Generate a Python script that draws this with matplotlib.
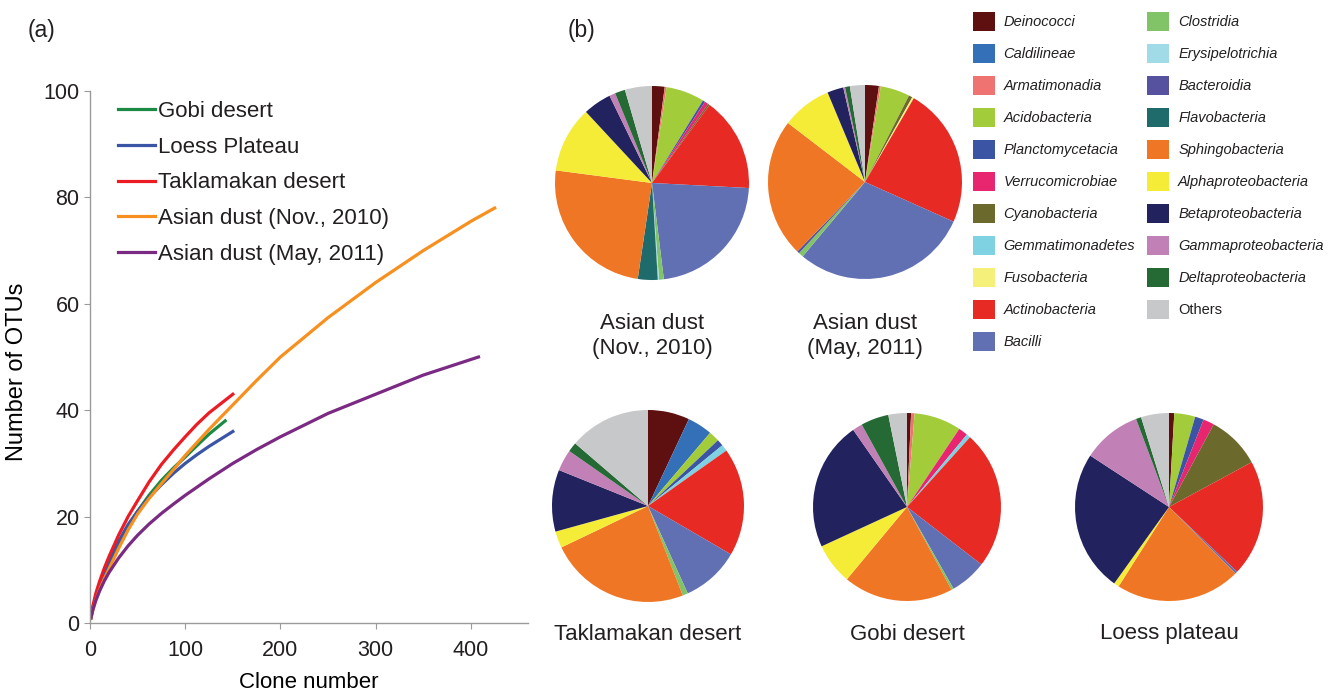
import matplotlib.pyplot as plt
from matplotlib.patches import Patch

plt.rcParams['font.family'] = ['Liberation Sans', 'DejaVu Sans']
plt.rcParams['text.color'] = '#231f20'

# rarefaction curves (clone number, OTUs)
gobi_x = [1, 3, 6, 10, 15, 20, 30, 40, 50, 62, 75, 88, 100, 112, 125, 142]
gobi_y = [1, 2.8, 4.8, 7, 9.3, 11.3, 15, 18.2, 21, 24, 26.8, 29.2, 31.2, 33.3, 35.5, 38]
loess_x = [1, 3, 6, 10, 15, 20, 30, 40, 50, 62, 75, 88, 100, 112, 125, 150]
loess_y = [1, 2.8, 4.8, 7, 9.4, 11.5, 15.3, 18.5, 21, 23.6, 26, 28.2, 30, 31.6, 33.2, 36]
takla_x = [1, 3, 6, 10, 15, 20, 30, 40, 50, 62, 75, 88, 100, 112, 125, 150]
takla_y = [1, 3.2, 5.5, 7.8, 10.3, 12.5, 16.5, 20, 23, 26.5, 29.8, 32.6, 35, 37.3, 39.5, 43]
nov_x = [1, 3, 6, 10, 15, 20, 30, 40, 50, 62, 75, 88, 100, 125, 150,
         175, 200, 250, 300, 350, 400, 425]
nov_y = [1, 2.4, 4.2, 6.2, 8.3, 10.2, 14, 17.5, 20.5, 23.4, 26.2, 28.9, 31.5,
         36.4, 41, 45.6, 50, 57.4, 64, 70, 75.5, 78]
may_x = [1, 3, 6, 10, 15, 20, 30, 40, 50, 62, 75, 88, 100, 125, 150,
         175, 200, 250, 300, 350, 408]
may_y = [1, 2.5, 4.2, 6, 7.9, 9.5, 12.2, 14.5, 16.5, 18.6, 20.6, 22.4, 24,
         27.1, 30, 32.6, 35, 39.4, 43, 46.6, 50]

classes = ['Deinococci', 'Caldilineae', 'Armatimonadia', 'Acidobacteria',
           'Planctomycetacia', 'Verrucomicrobiae', 'Cyanobacteria',
           'Gemmatimonadetes', 'Fusobacteria', 'Actinobacteria', 'Bacilli',
           'Clostridia', 'Erysipelotrichia', 'Bacteroidia', 'Flavobacteria',
           'Sphingobacteria', 'Alphaproteobacteria', 'Betaproteobacteria',
           'Gammaproteobacteria', 'Deltaproteobacteria', 'Others']
class_colors = ['#5e1010', '#3470b8', '#ef7370', '#a3cc3a', '#3b54a4',
                '#e8256f', '#6c692d', '#7fd2e1', '#f5f07a', '#e82a25',
                '#6170b3', '#80c467', '#a0dbe7', '#5652a0', '#1f6b6b',
                '#ef7624', '#f4ec37', '#21225e', '#c181b6', '#256934',
                '#c7c8ca']

# community composition (%), same order as classes
dust_nov = [2.1, 0, 0.3, 6.4, 0.4, 0.6, 0.3, 0, 0, 15.7, 22.2,
            0.8, 0.2, 0, 3.3, 24.7, 11.0, 4.7, 1.0, 1.7, 4.5]
dust_may = [2.3, 0, 0.3, 4.9, 0, 0, 0.6, 0, 0.3, 23.3, 29.4,
            0.8, 0, 0.4, 0, 23.1, 8.3, 2.7, 0.3, 0.8, 2.5]
taklamakan = [7.0, 4.2, 0, 1.8, 1.1, 0, 0, 1.1, 0, 18.2, 9.8,
              0.9, 0, 0, 0, 23.8, 2.8, 10.4, 3.6, 1.6, 13.7]
gobi = [0.7, 0, 0.6, 8.1, 0, 1.6, 0, 0.7, 0, 23.8, 6.3,
        0.4, 0, 0, 0, 18.9, 7.1, 22.2, 1.7, 4.8, 3.2]
loess = [0.9, 0, 0, 3.6, 1.5, 1.9, 9.2, 0, 0, 20.0, 0.4,
         0, 0, 0, 0, 21.5, 0.9, 24.3, 10.1, 0.9, 4.8]

pie_sets = [dust_nov, dust_may, taklamakan, gobi, loess]
pie_titles = ['Asian dust\n(Nov., 2010)', 'Asian dust\n(May, 2011)',
              'Taklamakan desert', 'Gobi desert', 'Loess plateau']
# pie centres / radius in figure pixels (y from top)
pie_centers = [(652, 183), (865, 182), (648, 506), (907, 507), (1169, 507)]
pie_radius = [97, 97, 96, 94, 94]
title_y = [336, 336, 634, 634, 634]

W, H = 1329, 691
fig = plt.figure(figsize=(W / 100, H / 100), dpi=100)

# ---- (a) rarefaction curves
ax = fig.add_axes([90 / W, 1 - 623 / H, 438 / W, 532 / H])
ax.plot(gobi_x, gobi_y, color='#1a8a44', lw=2.3, label='Gobi desert')
ax.plot(loess_x, loess_y, color='#3a55a5', lw=2.3, label='Loess Plateau')
ax.plot(takla_x, takla_y, color='#ec1c24', lw=2.3, label='Taklamakan desert')
ax.plot(nov_x, nov_y, color='#f7901e', lw=2.3, label='Asian dust (Nov., 2010)')
ax.plot(may_x, may_y, color='#7b2a83', lw=2.3, label='Asian dust (May, 2011)')
ax.set_xlim(0, 460)
ax.set_ylim(0, 100)
ax.set_xticks([0, 100, 200, 300, 400])
ax.set_yticks([0, 20, 40, 60, 80, 100])
for s in ['top', 'right']:
    ax.spines[s].set_visible(False)
for s in ['left', 'bottom']:
    ax.spines[s].set_color('#9a9a9a')
    ax.spines[s].set_linewidth(1)
ax.tick_params(colors='#9a9a9a', labelcolor='#231f20', labelsize=15.5, length=4)
ax.tick_params(axis='x', pad=8.5)
ax.set_xlabel('Clone number', fontsize=16, labelpad=8)
ax.set_ylabel('Number of OTUs', fontsize=17)
ax.yaxis.set_label_coords(-0.142, 0.472)
leg = ax.legend(loc='upper left', bbox_to_anchor=(0.04, 1.0), frameon=False,
                fontsize=16, handlelength=1.7, handletextpad=0.12,
                labelspacing=0.66, borderaxespad=0.05)
fig.text(28 / W, 1 - 30 / H, '(a)', fontsize=16.5, va='center')
fig.text(568 / W, 1 - 30 / H, '(b)', fontsize=16.5, va='center')

# ---- (b) pies on a pixel-space overlay
pax = fig.add_axes([0, 0, 1, 1])
for vals, (cx, cy), r in zip(pie_sets, pie_centers, pie_radius):
    pax.pie(vals, colors=class_colors, startangle=90, counterclock=False,
            center=(cx, H - cy), radius=r, wedgeprops=dict(linewidth=0))
for title, (cx, cy), ty in zip(pie_titles, pie_centers, title_y):
    pax.text(cx, H - ty, title, ha='center', va='center', fontsize=16,
             linespacing=1.2)
pax.set_xlim(0, W)
pax.set_ylim(0, H)
pax.set_axis_off()

handles = [Patch(facecolor=c, edgecolor='none') for c in class_colors]
lg = fig.legend(handles, classes, loc='upper left',
                bbox_to_anchor=(967 / W, 1 - 6 / H), ncol=2, frameon=False,
                fontsize=10.5, handlelength=1.5, handleheight=1.6,
                handletextpad=0.6, labelspacing=0.91, columnspacing=0.85,
                borderaxespad=0)
for t in lg.get_texts():
    if t.get_text() != 'Others':
        t.set_style('italic')

fig.savefig('out.png', dpi=100)
